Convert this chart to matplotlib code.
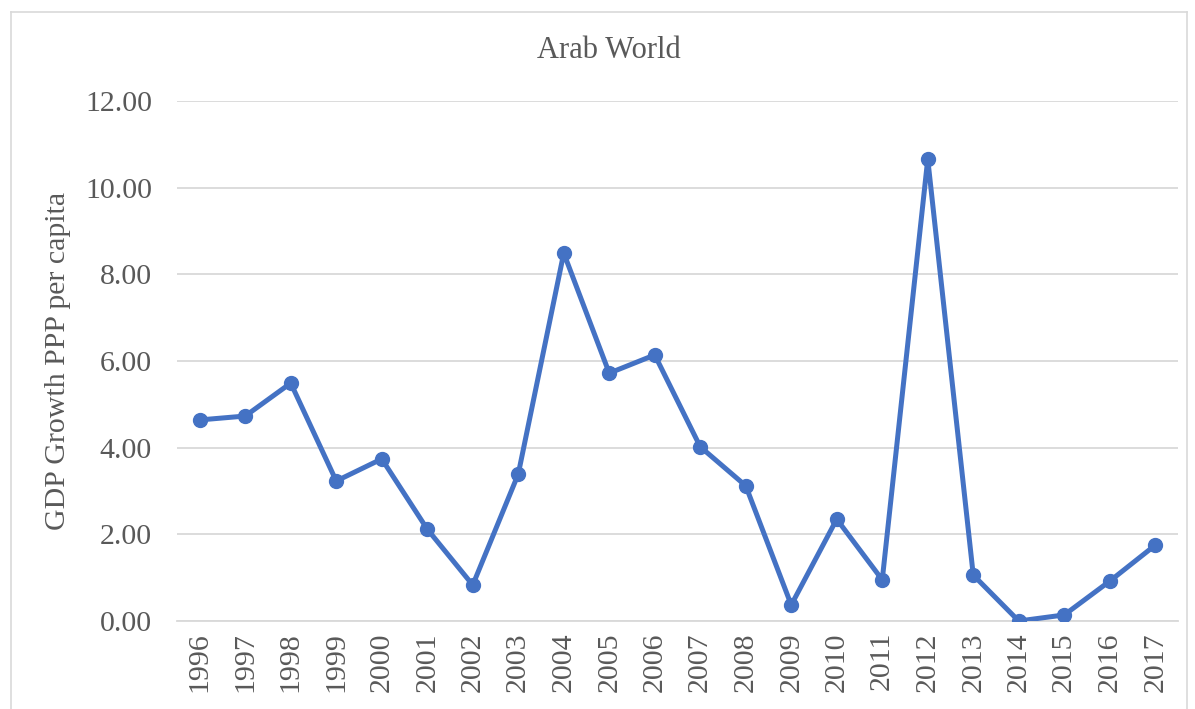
import matplotlib
matplotlib.use("Agg")
import matplotlib.pyplot as plt
from matplotlib.lines import Line2D

years = ["1996", "1997", "1998", "1999", "2000", "2001", "2002", "2003", "2004", "2005", "2006",
         "2007", "2008", "2009", "2010", "2011", "2012", "2013", "2014", "2015", "2016", "2017"]
growth = [4.64, 4.73, 5.49, 3.23, 3.74, 2.12, 0.83, 3.39, 8.49, 5.72, 6.14,
          4.02, 3.12, 0.37, 2.35, 0.95, 10.66, 1.06, 0.00, 0.14, 0.92, 1.75]
yticks = [0, 2, 4, 6, 8, 10, 12]

plt.rcParams['font.family'] = ['Liberation Serif', 'DejaVu Serif']
W, H = 1195, 709
fig = plt.figure(figsize=(W/100, H/100), dpi=100)
ax = fig.add_axes([177/W, 1-621/H, (1178-177)/W, (621-101)/H])

x = list(range(len(years)))
ax.plot(x, growth, color='#4472C4', lw=3.6, marker='o', ms=10, solid_joinstyle='round', zorder=3)

ax.set_xlim(-0.5, len(years)-0.5)
ax.set_ylim(0, 12)
ax.set_yticks(yticks)
ax.set_yticklabels([f"{v:.2f}" for v in yticks])
ax.set_xticks(x)
ax.set_xticklabels(years, rotation=90)
ax.grid(axis='y', color='#D9D9D9', lw=1.3)
ax.set_axisbelow(True)
for s in ['top', 'right', 'left']:
    ax.spines[s].set_visible(False)
ax.spines['bottom'].set_color('#D9D9D9')
ax.spines['bottom'].set_linewidth(1.3)
ax.tick_params(axis='both', length=0, labelsize=21.5, colors='#595959')
ax.tick_params(axis='y', pad=18)
ax.tick_params(axis='x', pad=8)
ax.set_ylabel("GDP Growth PPP per capita", fontsize=21.5, color='#595959', labelpad=10)
fig.text(609/W, 1-50/H, "Arab World", ha='center', va='center', fontsize=22, color='#595959')

# chart border
bx0, by0, bx1 = 10.5/W, 1-11.5/H, 1186.5/W
fig.add_artist(Line2D([bx0, bx0], [0, by0], color='#D9D9D9', lw=1.2, transform=fig.transFigure))
fig.add_artist(Line2D([bx0, bx1], [by0, by0], color='#D9D9D9', lw=1.2, transform=fig.transFigure))
fig.add_artist(Line2D([bx1, bx1], [0, by0], color='#D9D9D9', lw=1.2, transform=fig.transFigure))

fig.savefig("out.png", dpi=100)
